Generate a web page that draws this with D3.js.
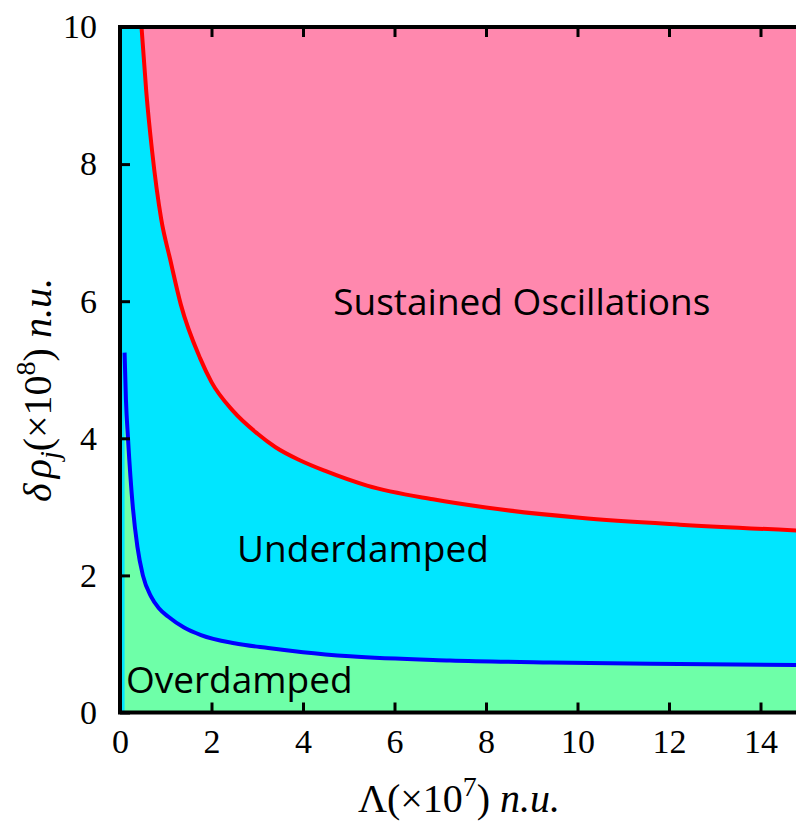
<!DOCTYPE html>
<html>
<head>
<meta charset="utf-8">
<script src="https://cdn.jsdelivr.net/npm/d3@7"></script>
<style>
  body { margin: 0; background: #fff; }
  .tick text { font-family: "Liberation Serif", serif; font-size: 34px; fill: #000; }
  .lbl { font-family: "Open Sans", sans-serif; font-size: 37px; fill: #000; }
  .ttl { font-family: "Liberation Serif", serif; font-size: 40px; fill: #000; }
</style>
</head>
<body>
<script>
// boundary between underdamped and sustained oscillations (red)
var redLambda = [0.47, 0.575, 0.70, 0.90, 1.1, 1.33, 1.75, 2.0, 2.47, 3.0, 3.4, 3.93, 4.5, 5.4, 6.84, 8.0, 10.05, 12.24, 15];
var redDelta  = [10, 9.05, 8.2, 7.2, 6.6, 5.95, 5.17, 4.82, 4.4, 4.07, 3.87, 3.68, 3.52, 3.31, 3.11, 2.99, 2.84, 2.74, 2.65];
// boundary between overdamped and underdamped (blue)
var blueLambda = [0.10, 0.13, 0.175, 0.28, 0.38, 0.50, 0.68, 0.85, 1.05, 1.4, 1.77, 2.5, 3.24, 4.0, 5.03, 7.21, 9.4, 11.6, 15];
var blueDelta  = [5.25, 4.56, 4.0, 3.0, 2.42, 2.0, 1.69, 1.52, 1.40, 1.24, 1.13, 1.01, 0.94, 0.88, 0.82, 0.76, 0.73, 0.71, 0.69];

var xTicks = [0, 2, 4, 6, 8, 10, 12, 14];
var yTicks = [0, 2, 4, 6, 8, 10];

var width = 796, height = 827;
var svg = d3.select("body").append("svg").attr("width", width).attr("height", height);

var x = d3.scaleLinear().domain([0, 15]).range([120, 806.25]);
var y = d3.scaleLinear().domain([0, 10]).range([712.5, 27]);

var red = redLambda.map((d, i) => [d, redDelta[i]]);
var blue = blueLambda.map((d, i) => [d, blueDelta[i]]);

svg.append("clipPath").attr("id", "clip")
  .append("rect")
  .attr("x", x(0)).attr("y", y(10))
  .attr("width", x(15) - x(0)).attr("height", y(0) - y(10));

var g = svg.append("g").attr("clip-path", "url(#clip)");

// background = underdamped region
g.append("rect")
  .attr("x", x(0)).attr("y", y(10))
  .attr("width", x(15) - x(0)).attr("height", y(0) - y(10))
  .attr("fill", "#00e6ff");

var crv = d3.curveMonotoneX;

g.append("path").datum(red)
  .attr("fill", "#ff88ae")
  .attr("d", d3.area().curve(crv).x(d => x(d[0])).y0(y(10)).y1(d => y(d[1])));

g.append("path").datum(blue)
  .attr("fill", "#6effa8")
  .attr("d", d3.area().curve(crv).x(d => x(d[0])).y0(y(0)).y1(d => y(d[1])));

g.append("path").datum(red)
  .attr("fill", "none").attr("stroke", "#ff0000").attr("stroke-width", 4)
  .attr("d", d3.line().curve(crv).x(d => x(d[0])).y(d => y(d[1])));

g.append("path").datum(blue)
  .attr("fill", "none").attr("stroke", "#0000ff").attr("stroke-width", 4)
  .attr("d", d3.line().curve(crv).x(d => x(d[0])).y(d => y(d[1])));

// region labels
svg.append("text").attr("class", "lbl").attr("x", x(4.66)).attr("y", y(5.8)).text("Sustained Oscillations");
svg.append("text").attr("class", "lbl").attr("x", x(2.56)).attr("y", y(2.2)).text("Underdamped");
svg.append("text").attr("class", "lbl").attr("x", x(0.13)).attr("y", y(0.28)).text("Overdamped");

// axes
function styleAxis(sel) {
  sel.select(".domain").remove();
  sel.selectAll(".tick line").attr("stroke", "#000").attr("stroke-width", 3);
}
svg.append("g").attr("transform", "translate(0," + y(0) + ")")
  .call(d3.axisBottom(x).tickValues(xTicks).tickSize(-10).tickSizeOuter(0).tickPadding(16))
  .call(styleAxis);
svg.append("g").attr("transform", "translate(0," + y(10) + ")")
  .call(d3.axisTop(x).tickValues(xTicks).tickSize(-10).tickSizeOuter(0).tickFormat(""))
  .call(styleAxis);
svg.append("g").attr("transform", "translate(" + x(0) + ",0)")
  .call(d3.axisLeft(y).tickValues(yTicks).tickSize(-10).tickSizeOuter(0).tickPadding(23))
  .call(styleAxis);

svg.append("rect")
  .attr("x", x(0)).attr("y", y(10))
  .attr("width", x(15) - x(0)).attr("height", y(0) - y(10))
  .attr("fill", "none").attr("stroke", "#000").attr("stroke-width", 4);

// x title
var xt = svg.append("text").attr("class", "ttl").attr("x", 459).attr("y", 812).attr("text-anchor", "middle");
xt.append("tspan").text("Λ(×10");
xt.append("tspan").attr("font-size", "28px").attr("dy", -16).text("7");
xt.append("tspan").attr("dy", 16).text(")");
xt.append("tspan").attr("font-style", "italic").text(" n.u.");

// y title
var yt = svg.append("text").attr("class", "ttl")
  .attr("transform", "translate(51,390) rotate(-90)").attr("text-anchor", "middle");
yt.append("tspan").attr("font-style", "italic").text("δ");
yt.append("tspan").attr("font-style", "italic").attr("dx", 5).text("ρ");
yt.append("tspan").attr("font-style", "italic").attr("font-size", "28px").attr("dy", 8).text("j");
yt.append("tspan").attr("dy", -8).text("(×10");
yt.append("tspan").attr("font-size", "28px").attr("dy", -16).text("8");
yt.append("tspan").attr("dy", 16).text(")");
yt.append("tspan").attr("font-style", "italic").text(" n.u.");
</script>
</body>
</html>
